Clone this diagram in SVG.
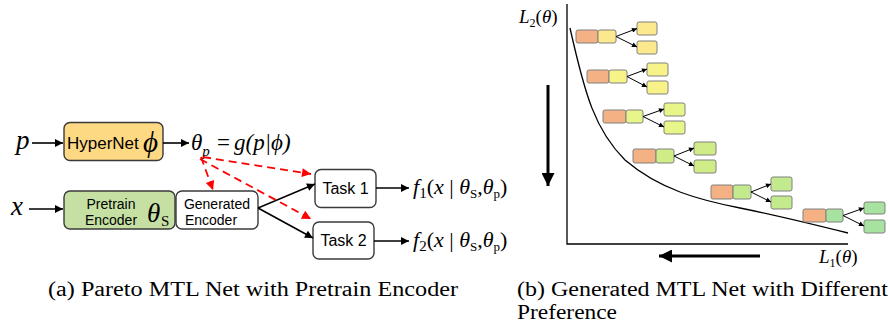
<svg xmlns="http://www.w3.org/2000/svg" width="890" height="326" viewBox="0 0 890 326">
<style>
.box{stroke:#3a3a3a;stroke-width:1.4}
.sans{font-family:"Liberation Sans",Arial,sans-serif;fill:#000}
.serif{font-family:"Liberation Serif","Times New Roman",serif;fill:#000}
.it{font-style:italic}
.ln{stroke:#000;stroke-width:1.6;fill:none}
.red{stroke:#ff0000;stroke-width:1.8;stroke-dasharray:8 5;fill:none}
.sb{stroke:#808080;stroke-width:1}
.org{fill:#f4b183}
.sm{stroke:#000;stroke-width:1;fill:none}
.big{stroke:#000;stroke-width:3;fill:none}
.ax{stroke:#000;stroke-width:1.3;fill:none}
</style>
<defs>
<marker id="ah" viewBox="0 0 10 10" refX="10" refY="5" markerWidth="10" markerHeight="8" markerUnits="userSpaceOnUse" orient="auto"><path d="M0,0 L10,5 L0,10 z" fill="#000"/></marker>
<marker id="ahr" viewBox="0 0 10 10" refX="10" refY="5" markerWidth="10" markerHeight="9" markerUnits="userSpaceOnUse" orient="auto"><path d="M0,0 L10,5 L0,10 z" fill="#ff0000"/></marker>
<marker id="ahs" viewBox="0 0 10 10" refX="10" refY="5" markerWidth="6" markerHeight="5" markerUnits="userSpaceOnUse" orient="auto"><path d="M0,0 L10,5 L0,10 z" fill="#000"/></marker>
<marker id="ahb" viewBox="0 0 10 10" refX="10" refY="5" markerWidth="13" markerHeight="13" markerUnits="userSpaceOnUse" orient="auto"><path d="M0,0 L10,5 L0,10 z" fill="#000"/></marker>
</defs>

<!-- left diagram -->
<g id="input-p"><text class="serif it" x="16" y="149" font-size="27">p</text></g>
<g id="input-x"><text class="serif it" x="11" y="215" font-size="27">x</text></g>

<g id="hypernet">
<rect class="box" x="64" y="122.5" width="99" height="38" rx="6" fill="#fed984"/>
<text class="sans" x="67" y="149" font-size="17">HyperNet</text>
<text class="serif it" x="143" y="152" font-size="29">ϕ</text>
</g>

<g id="theta-p">
<text class="serif it" x="191" y="150" font-size="23">θ<tspan font-size="15" dy="6">p</tspan><tspan dy="-6" font-style="normal" x="217">=</tspan><tspan x="234">g(p|ϕ)</tspan></text>
</g>

<g id="pretrain-encoder">
<rect class="box" x="64" y="191" width="111" height="38" rx="6" fill="#c6e0a4"/>
<text class="sans" x="111" y="209" font-size="14" text-anchor="middle">Pretrain</text>
<text class="sans" x="111" y="225" font-size="14" text-anchor="middle">Encoder</text>
<text class="serif it" x="147" y="222" font-size="27">θ</text>
<text class="serif" x="161" y="226" font-size="15">S</text>
</g>

<g id="generated-encoder">
<rect class="box" x="176" y="191" width="82" height="38" rx="6" fill="#fff"/>
<text class="sans" x="217" y="209" font-size="14" text-anchor="middle">Generated</text>
<text class="sans" x="211" y="225" font-size="14" text-anchor="middle">Encoder</text>
</g>

<g id="task1">
<rect class="box" x="315" y="169.5" width="61" height="38" rx="6" fill="#fff"/>
<text class="sans" x="345.5" y="194" font-size="16" text-anchor="middle">Task 1</text>
</g>
<g id="task2">
<rect class="box" x="313" y="222" width="61" height="37" rx="6" fill="#fff"/>
<text class="sans" x="343.5" y="246" font-size="16" text-anchor="middle">Task 2</text>
</g>

<g id="out1">
<text class="serif" x="413" y="194" font-size="22"><tspan font-style="italic">f</tspan><tspan font-size="15" dy="4">1</tspan><tspan dy="-4">(</tspan><tspan font-style="italic">x</tspan> | <tspan font-style="italic">θ</tspan><tspan font-size="13" dy="4">S</tspan><tspan dy="-4">,</tspan><tspan font-style="italic">θ</tspan><tspan font-size="13" dy="4">p</tspan><tspan dy="-4">)</tspan></text>
</g>
<g id="out2">
<text class="serif" x="413" y="247" font-size="22"><tspan font-style="italic">f</tspan><tspan font-size="15" dy="4">2</tspan><tspan dy="-4">(</tspan><tspan font-style="italic">x</tspan> | <tspan font-style="italic">θ</tspan><tspan font-size="13" dy="4">S</tspan><tspan dy="-4">,</tspan><tspan font-style="italic">θ</tspan><tspan font-size="13" dy="4">p</tspan><tspan dy="-4">)</tspan></text>
</g>

<g id="connectors-left">
<line class="ln" x1="32" y1="143" x2="63" y2="143" marker-end="url(#ah)"/>
<line class="ln" x1="29" y1="209" x2="63" y2="209" marker-end="url(#ah)"/>
<line class="ln" x1="163" y1="143" x2="189" y2="143" marker-end="url(#ah)"/>
<line class="ln" x1="258" y1="208" x2="315" y2="184" marker-end="url(#ah)"/>
<line class="ln" x1="258" y1="208" x2="313" y2="238" marker-end="url(#ah)"/>
<line class="ln" x1="376" y1="188" x2="409" y2="188" marker-end="url(#ah)"/>
<line class="ln" x1="374" y1="241" x2="409" y2="241" marker-end="url(#ah)"/>
<line class="red" x1="201" y1="157" x2="213" y2="190" marker-end="url(#ahr)"/>
<line class="red" x1="203" y1="157" x2="311" y2="174" marker-end="url(#ahr)"/>
<line class="red" x1="200" y1="159" x2="311" y2="219" marker-end="url(#ahr)"/>
</g>

<!-- right diagram -->
<g id="axes">
<polyline class="ax" points="567,4 567,244 848,244"/>
<text class="serif" x="519" y="23" font-size="19"><tspan font-style="italic">L</tspan><tspan font-size="12" dy="4">2</tspan><tspan dy="-4">(</tspan><tspan font-style="italic">θ</tspan>)</text>
<text class="serif" x="819" y="263" font-size="19"><tspan font-style="italic">L</tspan><tspan font-size="12" dy="4">1</tspan><tspan dy="-4">(</tspan><tspan font-style="italic">θ</tspan>)</text>
<path class="ax" stroke-width="1.8" d="M570,28 C585,95 595,130 625,160 C660,190 700,200 740,208 C780,216 820,226 848,233"/>
</g>
<g id="connectors-right">
<line class="big" x1="548" y1="85" x2="548" y2="186" marker-end="url(#ahb)"/>
<line class="big" x1="760" y1="256" x2="659" y2="256" marker-end="url(#ahb)"/>
</g>

<g id="net1">
<rect class="org sb" x="576" y="30" width="22" height="13" rx="2"/>
<rect class="sb" x="598" y="30" width="18" height="13" rx="2" fill="#fde98d"/>
<rect class="sb" x="637" y="22" width="20" height="13" rx="2" fill="#fde98d"/>
<rect class="sb" x="637" y="41" width="20" height="13" rx="2" fill="#fde98d"/>
<line class="sm" x1="616" y1="36.5" x2="637" y2="28.5" marker-end="url(#ahs)"/>
<line class="sm" x1="616" y1="36.5" x2="637" y2="47" marker-end="url(#ahs)"/>
</g>
<g id="net2">
<rect class="org sb" x="587" y="70" width="22" height="13" rx="2"/>
<rect class="sb" x="609" y="70" width="18" height="13" rx="2" fill="#f8f389"/>
<rect class="sb" x="647" y="63" width="21" height="13" rx="2" fill="#f8f389"/>
<rect class="sb" x="647" y="81" width="21" height="13" rx="2" fill="#f8f389"/>
<line class="sm" x1="627" y1="76.5" x2="647" y2="69" marker-end="url(#ahs)"/>
<line class="sm" x1="627" y1="76.5" x2="647" y2="87" marker-end="url(#ahs)"/>
</g>
<g id="net3">
<rect class="org sb" x="603" y="110" width="23" height="13" rx="2"/>
<rect class="sb" x="626" y="110" width="17" height="13" rx="2" fill="#e8f588"/>
<rect class="sb" x="664" y="103" width="21" height="13" rx="2" fill="#e8f588"/>
<rect class="sb" x="664" y="121" width="21" height="13" rx="2" fill="#e8f588"/>
<line class="sm" x1="643" y1="116.5" x2="664" y2="109" marker-end="url(#ahs)"/>
<line class="sm" x1="643" y1="116.5" x2="664" y2="127" marker-end="url(#ahs)"/>
</g>
<g id="net4">
<rect class="org sb" x="633" y="149" width="23" height="14" rx="2"/>
<rect class="sb" x="656" y="149" width="18" height="14" rx="2" fill="#cfec86"/>
<rect class="sb" x="694" y="142" width="22" height="13" rx="2" fill="#cfec86"/>
<rect class="sb" x="694" y="160" width="22" height="13" rx="2" fill="#cfec86"/>
<line class="sm" x1="674" y1="156" x2="694" y2="148" marker-end="url(#ahs)"/>
<line class="sm" x1="674" y1="156" x2="694" y2="166" marker-end="url(#ahs)"/>
</g>
<g id="net5">
<rect class="org sb" x="711" y="185" width="22" height="14" rx="2"/>
<rect class="sb" x="733" y="185" width="18" height="14" rx="2" fill="#c3ea8c"/>
<rect class="sb" x="771" y="177" width="21" height="14" rx="2" fill="#c3ea8c"/>
<rect class="sb" x="771" y="196" width="21" height="13" rx="2" fill="#c3ea8c"/>
<line class="sm" x1="751" y1="192" x2="771" y2="184" marker-end="url(#ahs)"/>
<line class="sm" x1="751" y1="192" x2="771" y2="202" marker-end="url(#ahs)"/>
</g>
<g id="net6">
<rect class="org sb" x="803" y="209" width="23" height="13" rx="2"/>
<rect class="sb" x="826" y="209" width="17" height="13" rx="2" fill="#a8e2a0"/>
<rect class="sb" x="864" y="202" width="21" height="12" rx="2" fill="#a8e2a0"/>
<rect class="sb" x="864" y="220" width="21" height="13" rx="2" fill="#a8e2a0"/>
<line class="sm" x1="843" y1="215.5" x2="864" y2="208" marker-end="url(#ahs)"/>
<line class="sm" x1="843" y1="215.5" x2="864" y2="226" marker-end="url(#ahs)"/>
</g>

<g id="captions">
<text class="serif" x="48" y="296" font-size="20" textLength="410" lengthAdjust="spacingAndGlyphs">(a) Pareto MTL Net with Pretrain Encoder</text>
<text class="serif" x="517" y="296" font-size="20" textLength="371" lengthAdjust="spacingAndGlyphs">(b) Generated MTL Net with Different</text>
<text class="serif" x="517" y="319" font-size="20" textLength="100" lengthAdjust="spacingAndGlyphs">Preference</text>
</g>
</svg>
